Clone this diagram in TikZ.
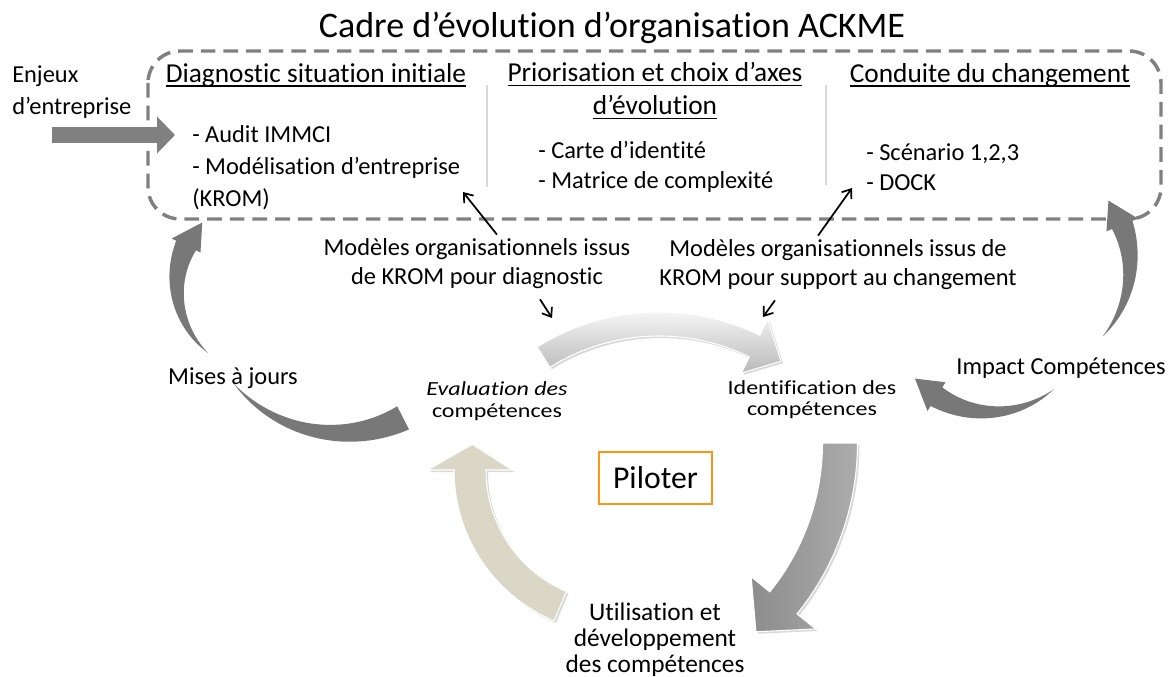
\documentclass[tikz,border=0pt]{standalone}
\usepackage{fontspec}
\setmainfont{Carlito}[Ligatures={TeX,NoCommon}]
\usetikzlibrary{arrows.meta,shadows}

\definecolor{framegray}{RGB}{128,128,128}
\definecolor{bentgray}{RGB}{120,120,120}
\definecolor{beige}{RGB}{218,215,198}
\definecolor{pilorange}{RGB}{250,150,20}

\newcommand{\uln}[1]{\leavevmode\setbox0\hbox{#1}\rlap{\rule[-3.5pt]{\wd0}{1.2pt}}\box0}

% #1 style, #2 centre, #3 radius, #4 tail angle, #5 head base angle,
% #6 tail width, #7 shaft width, #8 head width, #9 tip angle
\newcommand{\bentarrow}[9]{%
  \begin{scope}[shift={#2}]
    \path[#1] plot[domain=#4:#5, samples=40] (\x:{#3+(#6+(#7-#6)*(\x-(#4))/((#5)-(#4)))/2})
      -- (#5:{#3+#8/2}) -- (#9:#3) -- (#5:{#3-#8/2})
      -- plot[domain=#5:#4, samples=40] (\x:{#3-(#6+(#7-#6)*(\x-(#4))/((#5)-(#4)))/2})
      -- cycle;
  \end{scope}}

\begin{document}
\begin{tikzpicture}[x=0.75pt, y=-0.75pt,
    title/.style={inner sep=0pt, font=\fontsize{27}{32}\selectfont},
    head/.style={inner sep=0pt, align=center, font=\fontsize{20.5}{24.75}\selectfont},
    item/.style={inner sep=0pt, align=left, anchor=west, font=\fontsize{18.3}{24}\selectfont},
    lbl/.style={inner sep=0pt, align=center, font=\fontsize{18.3}{21.75}\selectfont},
    small/.style={inner sep=0pt, align=center, xscale=1.2, font=\fontsize{15}{16}\selectfont},
    frame/.style={draw=framegray, line width=2.6pt, dash pattern=on 11pt off 6pt, rounded corners=24pt},
    sep/.style={draw=gray!30, line width=1.2pt},
    ptr/.style={line width=1.3pt, -{Straight Barb[length=6pt, width=9pt]}},
    flatarrow/.style={fill=bentgray},
    shadowed/.style={drop shadow={opacity=0.3, shadow xshift=1.5pt, shadow yshift=-1.5pt}},
  ]
\useasboundingbox (0,0) rectangle (1171,677);

\node[title] (title) at (612,28) {Cadre d'évolution d'organisation ACKME};
\draw[frame] (148,51) rectangle (1161,219);
\draw[sep] (487,85) -- (487,187);
\draw[sep] (826,85) -- (826,185);

\node[head] (diag) at (316,75) {\uln{Diagnostic situation initiale}};
\node[head] (prio) at (655,91) {\uln{Priorisation et choix d'axes}\\\uln{d'évolution}};
\node[head] (cond) at (990,75) {\uln{Conduite du changement}};

\node[item] (diagitems) at (192,168) {- Audit IMMCI\\- Modélisation d'entreprise\\(KROM)};
\node[item, font=\fontsize{18.3}{22.5}\selectfont] (prioitems) at (538,167) {- Carte d'identité\\- Matrice de complexité};
\node[item, font=\fontsize{18.3}{22.5}\selectfont] (conditems) at (866,167) {- Scénario 1,2,3\\- DOCK};

\node[item] (enjeux) at (12,92) {Enjeux\\d'entreprise};
\coordinate (enjtail) at (52,135);
\coordinate (enjtip) at (175,135);
\draw[framegray, line width=12pt, -{Triangle[length=13.5pt, width=27pt]}] (enjtail) -- (enjtip);

\node[lbl] (moddiag) at (477,264) {Modèles organisationnels issus\\de KROM pour diagnostic};
\node[lbl] (modchg) at (838,265) {Modèles organisationnels issus de\\KROM pour support au changement};
\coordinate (diagin) at (463,192);
\coordinate (chgin) at (852,188);
\coordinate (evalin) at (552,318);
\coordinate (identin) at (763,317);
\draw[ptr] (moddiag.north) ++(20,-4) -- (diagin);
\draw[ptr] (modchg.north) ++(-20,-4) -- (chgin);
\draw[ptr] (moddiag.south) ++(63,10) -- (evalin);
\draw[ptr] (modchg.south) ++(-63,10) -- (identin);

\node[lbl] (majour) at (233,378) {Mises à jours};
\node[lbl] (impact) at (1061,368) {Impact Compétences};
\node[small] (eval) at (497,401) {\textit{Evaluation des}\\compétences};
\node[small] (ident) at (812,400) {Identification des\\compétences};
\node[draw=pilorange, line width=2.2pt, minimum width=84.75pt, minimum height=39pt,
      font=\fontsize{23.8}{28}\selectfont] (piloter) at (655.5,478) {Piloter};
\node[lbl, font=\fontsize{19}{19.5}\selectfont] (util) at (655,640) {Utilisation et\\développement\\des compétences};

% big cycle arrows
\bentarrow{shadowed, top color=gray!8, bottom color=gray!55, draw=white, line width=0.8pt}{(659,542)}{218}{-122}{-64}{24}{24}{60}{-56}
\bentarrow{shadowed, left color=gray!90, right color=gray!65, draw=white, line width=0.8pt}{(586,443)}{254}{0}{39}{35}{35}{83}{48}
\bentarrow{shadowed, fill=beige, draw=white, line width=0.8pt}{(618,470)}{148}{113}{180}{32}{32}{85}{190}

% thin side arrows
\bentarrow{flatarrow}{(267,285)}{90}{131}{206}{0}{22}{32}{224}
\bentarrow{flatarrow}{(340,294)}{139}{140}{63}{0}{26}{26}{63}
\bentarrow{flatarrow}{(1023,265)}{107}{42}{-22}{0}{22}{34}{-37}
\bentarrow{flatarrow}{(990,311)}{101}{51}{122}{0}{22}{34}{138}
\end{tikzpicture}
\end{document}
